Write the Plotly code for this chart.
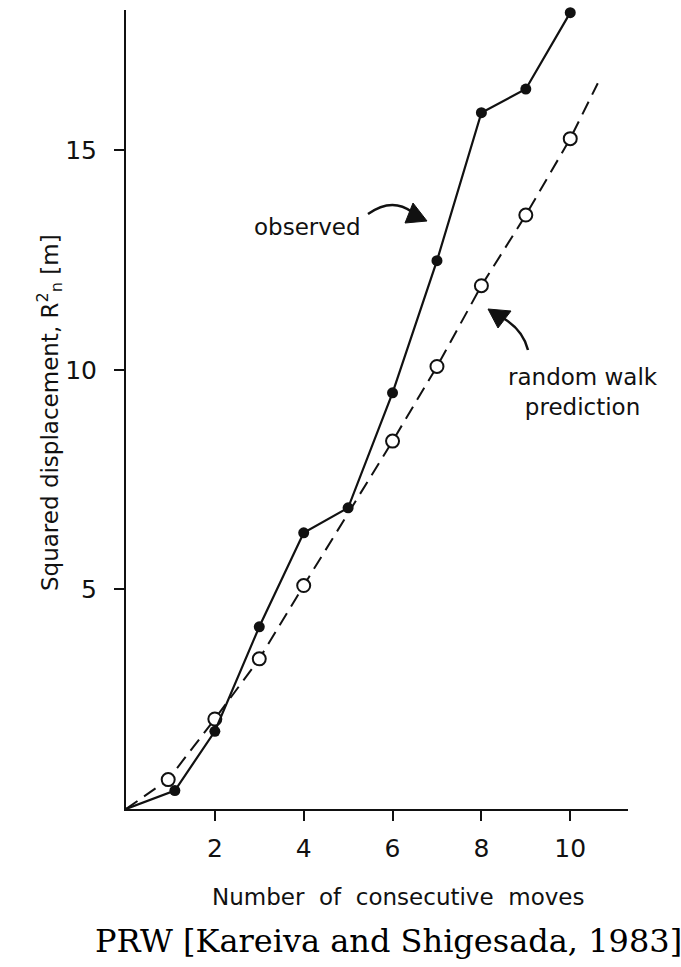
import plotly.graph_objects as go

# Number of consecutive moves and squared displacement R_n^2 (m)
observed_moves = [1.1, 2, 3, 4, 5, 6, 7, 8, 9, 10]
observed_r2 = [0.42, 1.77, 4.15, 6.29, 6.86, 9.48, 12.49, 15.86, 16.40, 18.14]

predicted_moves = [0.95, 2, 3, 4, 6, 7, 8, 9, 10]
predicted_r2 = [0.67, 2.05, 3.42, 5.09, 8.38, 10.08, 11.92, 13.53, 15.27]

# random-walk prediction curve (starts at origin, runs a little past the last move)
curve_moves = [0, 0.95, 2, 3, 4, 6, 7, 8, 9, 10, 10.62]
curve_r2 = [0, 0.67, 2.05, 3.42, 5.09, 8.38, 10.08, 11.92, 13.53, 15.27, 16.53]

x_ticks = [2, 4, 6, 8, 10]
x_tick_text = ["2", "4", "6", "8", "10"]
y_ticks = [5, 10, 15]
y_tick_text = ["5", "10", "15"]

W, H = 681, 967
L, R, T, B = 126, 53, 10, 158
PW, PH = W - L - R, H - T - B

INK = "#111111"
SANS = "DejaVu Sans"
SERIF = "DejaVu Serif"


def fx(xp):
    """page pixel x -> paper fraction"""
    return (xp - L) / PW


def fy(yp):
    """page pixel y -> paper fraction"""
    return (H - B - yp) / PH


fig = go.Figure()

fig.add_trace(go.Scatter(
    x=curve_moves, y=curve_r2, mode="lines",
    line=dict(color=INK, width=2, dash="14px,8px"),
    cliponaxis=False, showlegend=False, hoverinfo="skip",
))
fig.add_trace(go.Scatter(
    x=predicted_moves, y=predicted_r2, mode="markers",
    marker=dict(symbol="circle", size=13, color="white",
                line=dict(color=INK, width=2)),
    cliponaxis=False, showlegend=False,
))
fig.add_trace(go.Scatter(
    x=[0] + observed_moves, y=[0] + observed_r2, mode="lines",
    line=dict(color=INK, width=2.2),
    cliponaxis=False, showlegend=False, hoverinfo="skip",
))
fig.add_trace(go.Scatter(
    x=observed_moves, y=observed_r2, mode="markers",
    marker=dict(symbol="circle", size=11, color=INK),
    cliponaxis=False, showlegend=False,
))

axis_common = dict(
    showline=True, linecolor=INK, linewidth=2,
    ticks="outside", ticklen=10, tickwidth=2, tickcolor=INK,
    showgrid=False, zeroline=False,
    tickfont=dict(family=SANS, size=25, color=INK),
    fixedrange=True,
)
fig.update_xaxes(range=[0, 11.3], tickmode="array", tickvals=x_ticks,
                 ticktext=x_tick_text, ticklabelstandoff=6, **axis_common)
fig.update_yaxes(range=[0, 18.2], tickmode="array", tickvals=y_ticks,
                 ticktext=y_tick_text, ticklabelstandoff=12, **axis_common)

nb = "\u00a0\u00a0"
annotations = [
    dict(text=f"Number{nb}of{nb}consecutive{nb}moves", x=fx(398), y=fy(897),
         font=dict(family=SANS, size=23, color=INK)),
    dict(text="Squared displacement, R<sup>2</sup><sub>n</sub> [m]",
         x=fx(49), y=fy(413), textangle=-90,
         font=dict(family=SANS, size=23, color=INK)),
    dict(text="observed", x=fx(307), y=fy(227),
         font=dict(family=SANS, size=23, color=INK)),
    dict(text="random walk<br>prediction", x=fx(583), y=fy(392),
         font=dict(family=SANS, size=23, color=INK)),
    dict(text="PRW [Kareiva and Shigesada, 1983]", x=fx(388), y=fy(941),
         font=dict(family=SERIF, size=32, color="black")),
]
for a in annotations:
    a.update(xref="paper", yref="paper", showarrow=False,
             xanchor="center", yanchor="middle")


def path(points, close=False, curve=None):
    if curve:
        (x0, y0), (cx, cy), (x1, y1) = curve
        return (f"M {fx(x0)},{fy(y0)} Q {fx(cx)},{fy(cy)} {fx(x1)},{fy(y1)}")
    d = "M " + " L ".join(f"{fx(a)},{fy(b)}" for a, b in points)
    return d + (" Z" if close else "")


shapes = [
    # pointer for the observed series
    dict(type="path", path=path(None, curve=[(368, 214), (392, 197), (412, 212)]),
         line=dict(color=INK, width=2.5)),
    dict(type="path", path=path([(413, 203), (405, 223), (427, 221)], close=True),
         fillcolor=INK, line=dict(color=INK, width=1)),
    # pointer for the random walk prediction
    dict(type="path", path=path(None, curve=[(528, 350), (523, 330), (503, 318)]),
         line=dict(color=INK, width=2.5)),
    dict(type="path", path=path([(488, 309), (511, 311), (498, 328)], close=True),
         fillcolor=INK, line=dict(color=INK, width=1)),
]
for s in shapes:
    s.update(xref="paper", yref="paper")

fig.update_layout(
    width=W, height=H,
    margin=dict(l=L, r=R, t=T, b=B, pad=0),
    paper_bgcolor="white", plot_bgcolor="white",
    annotations=annotations, shapes=shapes,
    showlegend=False,
)

fig.write_html("out.html", config={"displayModeBar": False})
